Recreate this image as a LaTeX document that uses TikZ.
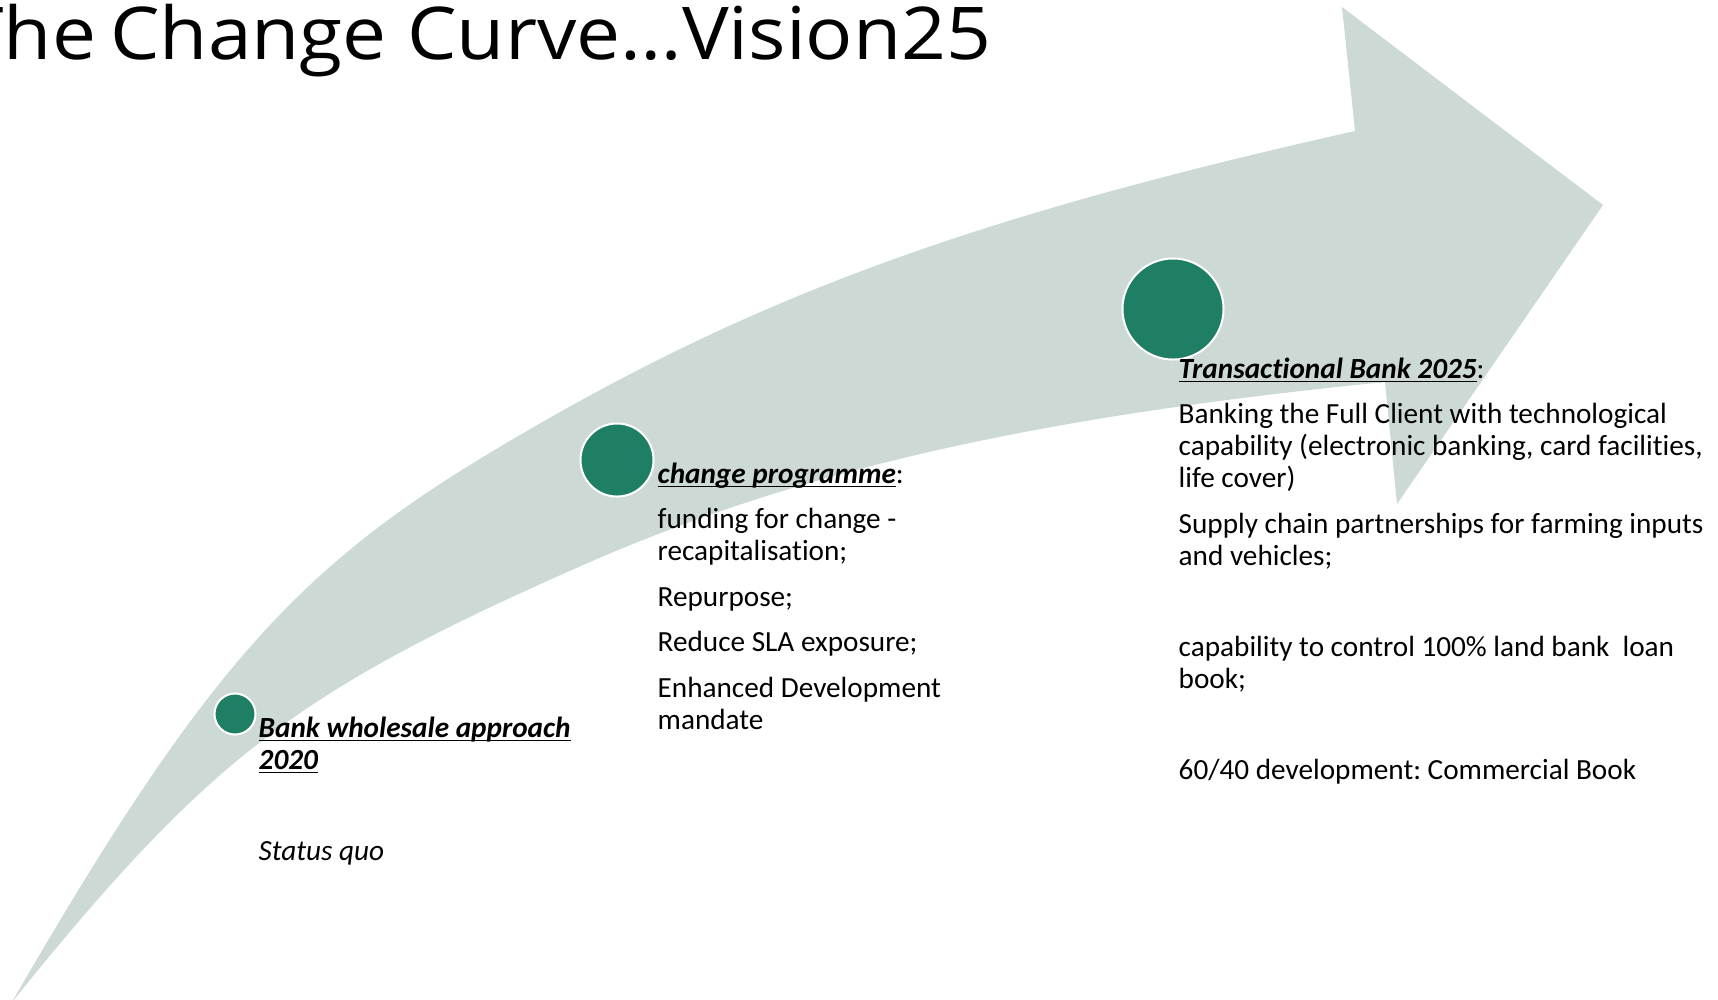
\documentclass[tikz,border=0pt]{standalone}
\usepackage{fontspec}
\setmainfont{Carlito}[Ligatures={NoCommon,NoContextual}]
\newfontfamily\titlefont{Open Sans}

\definecolor{bandfill}{HTML}{CCD9D4}
\definecolor{dotfill}{HTML}{1F7F64}

% bold italic heading with a rule set just under the baseline
\newlength\ulwidth
\newcommand\ulhead[1]{%
  \settowidth\ulwidth{\bfseries\itshape #1}%
  \rlap{\rule[-0.15em]{\ulwidth}{0.06em}}\textbf{\textit{#1}}}
\newcommand\pgap{3.85pt}

\tikzset{
  band/.style={fill=bandfill, draw=none},
  milestone/.style={circle, fill=dotfill, draw=white, line width=0.57pt, inner sep=0pt},
  stagetext/.style={anchor=base west, inner sep=0pt, align=left,
    font=\frenchspacing\fontsize{8.31pt}{9.1pt}\selectfont},
  titletext/.style={anchor=base east, inner sep=0pt,
    font=\titlefont\fontsize{20.7pt}{24pt}\selectfont}
}

\begin{document}
\begin{tikzpicture}[x=0.01cm, y=-0.01cm]
  \useasboundingbox (0,0) rectangle (1718,999);

  % curved arrow: outer edge, head, inner edge
  \fill[band]
    (12,1002) .. controls (197,682) and (291,573) .. (483,457)
              .. controls (741,301) and (959,220) .. (1355,131)
    -- (1342,7) -- (1603,205) -- (1397,504) -- (1385,382)
              .. controls (1012,419) and (786,476) .. (583,565)
              .. controls (295,692) and (209,758) .. (12,1002)
    -- cycle;

  % title (runs off the left edge of the page)
  \node[titletext] (title) at (992,59)
    {\resizebox{10.3cm}{\height}{The\kern-0.08em\ Change Curve…Vision25}};

  % milestones
  \node[milestone, minimum size=0.41cm] (m1) at (235,714) {};
  \node[milestone, minimum size=0.73cm] (m2) at (617,460) {};
  \node[milestone, minimum size=1.01cm] (m3) at (1173,309) {};

  % stage descriptions
  \node[stagetext] (s1) at (258,737) {%
    \begin{tabular}[t]{@{}l@{}}
      \ulhead{Bank wholesale approach}\\
      \ulhead{2020}\\[\pgap]
      \\[\pgap]
      \textit{Status quo}
    \end{tabular}};

  \node[stagetext] (s2) at (657,483) {%
    \begin{tabular}[t]{@{}l@{}}
      \ulhead{change programme}:\\[\pgap]
      funding for change -\\
      recapitalisation;\\[\pgap]
      Repurpose;\\[\pgap]
      Reduce SLA exposure;\\[\pgap]
      Enhanced Development\\
      mandate
    \end{tabular}};

  \node[stagetext] (s3) at (1178,378) {%
    \begin{tabular}[t]{@{}l@{}}
      \ulhead{Transactional Bank 2025}:\\[\pgap]
      Banking the Full Client with technological\\
      capability (electronic banking, card facilities,\\
      life cover)\\[\pgap]
      Supply chain partnerships for farming inputs\\
      and vehicles;\\[\pgap]
      \\[\pgap]
      capability to control 100\% land bank\ \ loan\\
      book;\\[\pgap]
      \\[\pgap]
      60/40 development: Commercial Book
    \end{tabular}};
\end{tikzpicture}
\end{document}
